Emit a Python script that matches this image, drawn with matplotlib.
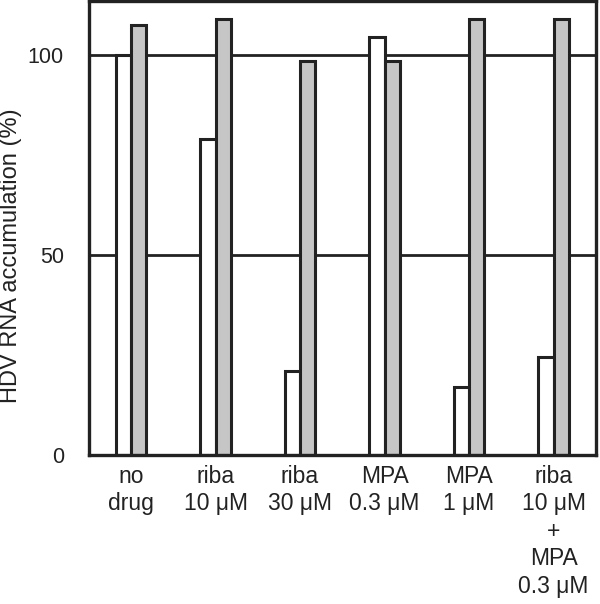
import matplotlib
matplotlib.use("Agg")
import matplotlib.pyplot as plt
import numpy as np

plt.rcParams['font.family'] = ['Liberation Sans', 'DejaVu Sans']

categories = ["no\ndrug", "riba\n10 μM", "riba\n30 μM", "MPA\n0.3 μM", "MPA\n1 μM",
              "riba\n10 μM\n+\nMPA\n0.3 μM"]
white_values = [100, 79, 21, 104.5, 17, 24.4]
gray_values = [107.5, 109, 98.6, 98.5, 109.2, 109.2]
yticks = [0, 50, 100]

edge = "#222222"
fig = plt.figure(figsize=(6.0, 6.04), dpi=100)
ax = fig.add_axes([0.148, 0.2467, 0.845, 0.751])

x = np.arange(len(categories))
w = 0.18
ax.bar(x - w / 2, white_values, width=w, color="white", edgecolor=edge, linewidth=2.2, zorder=3)
ax.bar(x + w / 2, gray_values, width=w, color="#c6c6c6", edgecolor=edge, linewidth=2.2, zorder=3)

for yv in [50, 100]:
    ax.axhline(yv, color=edge, linewidth=2.0, zorder=1)

ax.set_xlim(-0.5, len(categories) - 0.5)
ax.set_ylim(0, 113.5)
ax.set_yticks(yticks)
ax.set_yticklabels([str(v) for v in yticks], fontsize=15.5, color="#222222")
ax.set_xticks(x)
ax.set_xticklabels(categories, fontsize=16.5, color="#222222", linespacing=1.25)
ax.tick_params(axis='both', length=0)
ax.tick_params(axis='y', pad=18)
ax.tick_params(axis='x', pad=7)
for s in ax.spines.values():
    s.set_linewidth(2.4)
    s.set_color(edge)
    s.set_zorder(5)

ax.set_ylabel("HDV RNA accumulation (%)", fontsize=17, color="#222222")
ax.yaxis.label.set_verticalalignment('center')
ax.yaxis.set_label_coords(-0.153, 0.44)

fig.savefig("out.png", dpi=100)
